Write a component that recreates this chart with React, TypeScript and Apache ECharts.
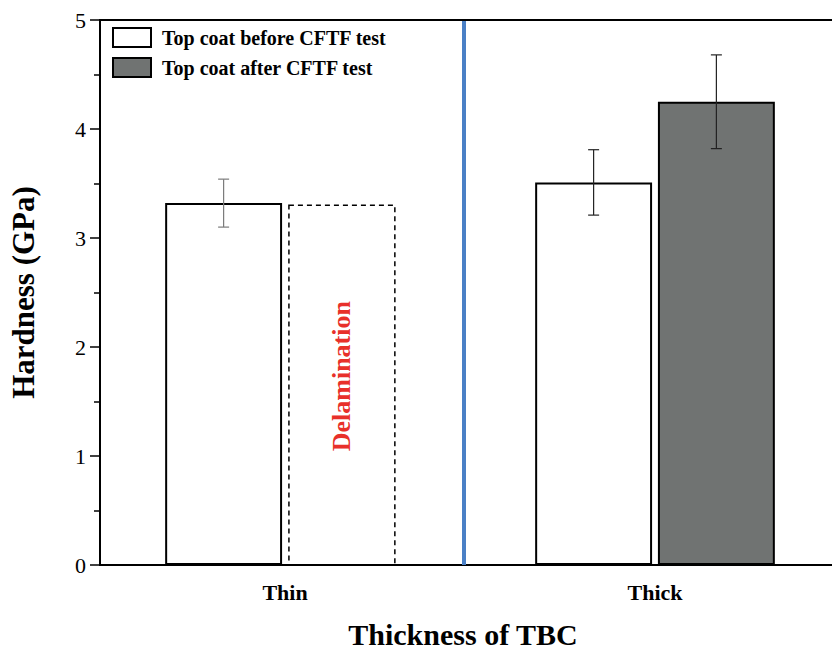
import React, { useEffect, useRef } from "react";
import * as echarts from "echarts";

const categories = ["Thin", "Thick"];
const beforeValues = [3.32, 3.51];
const afterValues = [null, 4.25];
const beforeErrors = [0.22, 0.3];
const afterErrors = [null, 0.43];
const delaminationCategory = 0;
const delaminationValue = 3.3;
const seriesNames = ["Top coat before CFTF test", "Top coat after CFTF test"];
const yTicks = [0, 1, 2, 3, 4, 5];
const delaminationLabel = "Delamination";

const FONT = "'Liberation Serif', 'Times New Roman', serif";

export default function App() {
  const ref = useRef<HTMLDivElement>(null);
  useEffect(() => {
    document.body.style.margin = "0";
    const chart = echarts.init(ref.current!, null, { renderer: "svg" });

    const errData: any[] = [];
    categories.forEach((_, i) => {
      if (beforeErrors[i] != null) errData.push([i, beforeValues[i], beforeErrors[i], 0]);
      if (afterErrors[i] != null && afterValues[i] != null)
        errData.push([i, afterValues[i] as number, afterErrors[i] as number, 1]);
    });

    const barFrac = 0.316;
    const gapFrac = 0.05;
    const barWidth = barFrac * 100 + "%";
    const barGap = gapFrac * 100 + "%";

    chart.setOption({
      animation: false,
      grid: {
        left: 100,
        top: 20,
        right: -8,
        bottom: 86,
        containLabel: false,
        outerBoundsMode: "none",
        show: true,
        borderColor: "#000",
        borderWidth: 2,
        backgroundColor: "transparent",
      },
      legend: {
        orient: "vertical",
        left: 107,
        top: 22,
        icon: "rect",
        itemWidth: 38,
        itemHeight: 19,
        itemGap: 9,
        data: seriesNames,
        textStyle: {
          fontFamily: FONT,
          fontWeight: "bold",
          fontSize: 20,
          lineHeight: 19,
          color: "#000",
          padding: [0, 0, 0, 6],
        },
      },
      xAxis: {
        type: "category",
        data: categories,
        name: "Thickness of TBC",
        nameLocation: "middle",
        nameGap: 54,
        nameTextStyle: {
          fontFamily: FONT,
          fontWeight: "bold",
          fontSize: 30,
          lineHeight: 30,
          color: "#000",
          padding: [0, 14, 0, 0],
        },
        axisLine: { lineStyle: { color: "#000", width: 2 } },
        axisTick: { show: false },
        axisLabel: { fontFamily: FONT, fontWeight: "bold", fontSize: 22, color: "#000", margin: 16 },
        splitLine: { show: false },
      },
      yAxis: {
        type: "value",
        min: yTicks[0],
        max: yTicks[yTicks.length - 1],
        interval: 1,
        name: "Hardness (GPa)",
        nameLocation: "middle",
        nameGap: 61,
        nameTextStyle: { fontFamily: FONT, fontWeight: "bold", fontSize: 31, color: "#000" },
        axisLine: { show: true, lineStyle: { color: "#000", width: 2 } },
        axisTick: { show: true, length: 10, lineStyle: { color: "#000", width: 1.5 } },
        minorTick: { show: true, splitNumber: 2, length: 6, lineStyle: { color: "#000", width: 1.5 } },
        axisLabel: { fontFamily: FONT, fontSize: 22, color: "#000", margin: 14 },
        splitLine: { show: false },
      },
      graphic: [
        {
          type: "line",
          shape: { x1: 464, y1: 21, x2: 464, y2: 565 },
          style: { stroke: "#4a80c6", lineWidth: 4 },
          z: 10,
        },
      ],
      series: [
        {
          name: seriesNames[0],
          type: "bar",
          data: beforeValues,
          barWidth,
          barGap,
          itemStyle: { color: "#fff", borderColor: "#000", borderWidth: 2 },
        },
        {
          name: seriesNames[1],
          type: "bar",
          data: afterValues,
          barWidth,
          barGap,
          itemStyle: { color: "#707372", borderColor: "#000", borderWidth: 2 },
        },
        {
          type: "custom",
          data: [[delaminationCategory, delaminationValue]],
          z: 4,
          renderItem: (params: any, api: any) => {
            const cat = api.value(0);
            const val = api.value(1);
            const band = api.size([1, 0])[0];
            const bw = band * barFrac;
            const off = (bw + bw * gapFrac) / 2;
            const c = api.coord([cat, val]);
            const base = api.coord([cat, 0]);
            const w = bw * 0.906;
            const x = c[0] + off - bw / 2 + 1;
            return {
              type: "group",
              children: [
                {
                  type: "rect",
                  shape: { x, y: c[1], width: w, height: base[1] - c[1] },
                  style: { fill: "transparent", stroke: "#000", lineWidth: 1.5, lineDash: [5, 4] },
                },
                {
                  type: "text",
                  x: x + w / 2,
                  y: base[1] - (base[1] - c[1]) * 0.525,
                  rotation: Math.PI / 2,
                  style: {
                    text: delaminationLabel,
                    fill: "#e8302a",
                    font: "bold 26px " + FONT,
                    align: "center",
                    verticalAlign: "middle",
                  },
                },
              ],
            };
          },
        },
        {
          type: "custom",
          data: errData,
          z: 5,
          renderItem: (params: any, api: any) => {
            const cat = api.value(0);
            const val = api.value(1);
            const err = api.value(2);
            const side = api.value(3);
            const band = api.size([1, 0])[0];
            const bw = band * barFrac;
            const off = (bw + bw * gapFrac) / 2;
            const c = api.coord([cat, val]);
            const x = c[0] + (side === 0 ? -off : off);
            const top = api.coord([cat, val + err])[1];
            const bot = api.coord([cat, val - err])[1];
            const color = cat === 0 ? "#7a7a7a" : "#222";
            const st = { stroke: color, lineWidth: 1.2 };
            return {
              type: "group",
              children: [
                { type: "line", shape: { x1: x, y1: top, x2: x, y2: bot }, style: st },
                { type: "line", shape: { x1: x - 5.5, y1: top, x2: x + 5.5, y2: top }, style: st },
                { type: "line", shape: { x1: x - 5.5, y1: bot, x2: x + 5.5, y2: bot }, style: st },
              ],
            };
          },
        },
      ],
    });
    return () => chart.dispose();
  }, []);
  return <div ref={ref} style={{ width: 832, height: 651 }} />;
}
